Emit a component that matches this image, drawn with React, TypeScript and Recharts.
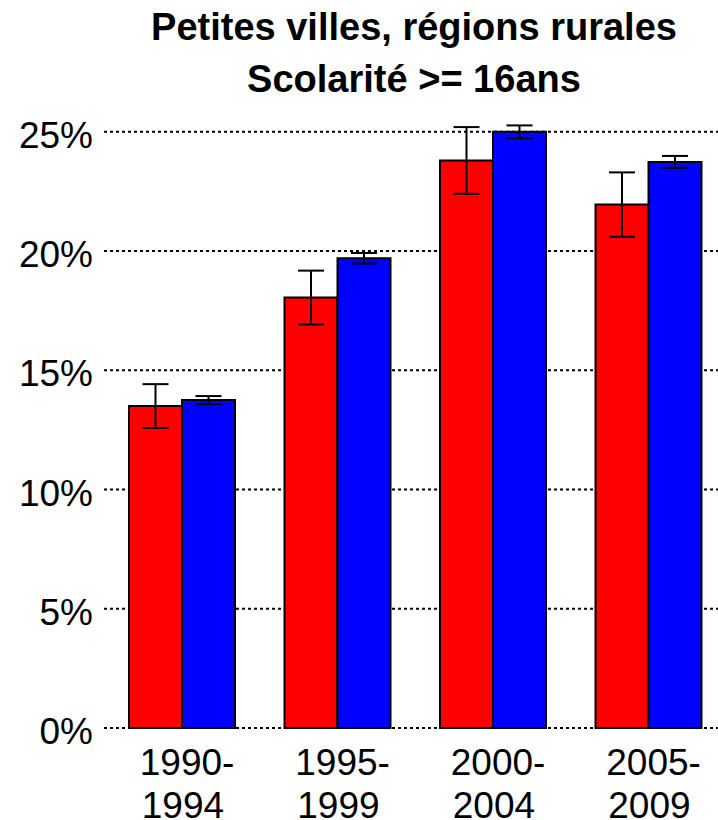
import { BarChart, Bar, XAxis, YAxis, CartesianGrid, ErrorBar } from 'recharts';

const periods = ['1990-1994', '1995-1999', '2000-2004', '2005-2009'];
const redValues = [13.5, 18.05, 23.8, 21.95];
const redErrors = [0.92, 1.13, 1.4, 1.35];
const blueValues = [13.75, 19.7, 25.0, 23.74];
const blueErrors = [0.17, 0.22, 0.27, 0.25];
const yTicks = [0, 5, 10, 15, 20, 25];
const titleLines = ['Petites villes, régions rurales', 'Scolarité >= 16ans'];

const data = periods.map((p, i) => ({
  period: p,
  red: redValues[i],
  redErr: redErrors[i],
  blue: blueValues[i],
  blueErr: blueErrors[i],
}));

const font = '"Liberation Sans", Arial, sans-serif';

const YTick = ({ x, y, payload }: any) => (
  <text x={x} y={y} dy={16} textAnchor="end" fontSize={37} fill="#000" fontFamily={font}>
    {payload.value}%
  </text>
);

const XTick = ({ x, y, payload }: any) => {
  const [a, b] = String(payload.value).split('-');
  return (
    <g>
      <text x={x - 42} y={y} dy={39} textAnchor="start" fontSize={37} fill="#000" fontFamily={font}>
        {a}-
      </text>
      <text x={x - 40} y={y} dy={82} textAnchor="start" fontSize={37} fill="#000" fontFamily={font}>
        {b}
      </text>
    </g>
  );
};

export default function App() {
  return (
    <div style={{ position: 'absolute', left: 0, top: 0, width: 718, height: 820, overflow: 'hidden', background: '#fff', fontFamily: font }}>
      <div style={{ position: 'absolute', left: 64, top: 1, width: 700, textAlign: 'center', fontSize: 38, fontWeight: 'bold', lineHeight: '52px', color: '#000' }}>
        {titleLines.map((t) => (
          <div key={t}>{t}</div>
        ))}
      </div>
      <BarChart
        width={726}
        height={820}
        data={data}
        margin={{ top: 108, right: 0, bottom: 0, left: 0 }}
        barCategoryGap={25}
        barGap={0}
      >
        <CartesianGrid vertical={false} syncWithTicks stroke="#000" strokeWidth={2} strokeDasharray="3 3" />
        <XAxis dataKey="period" axisLine={false} tickLine={false} height={92} tick={<XTick />} interval={0} />
        <YAxis
          width={104}
          domain={[0, 26]}
          ticks={yTicks}
          axisLine={false}
          tickLine={false}
          tickSize={0}
          tickMargin={11}
          tick={<YTick />}
        />
        <Bar dataKey="red" fill="#ff0000" stroke="#000" strokeWidth={2} isAnimationActive={false}>
          <ErrorBar dataKey="redErr" width={13} stroke="#000" strokeWidth={2} direction="y" />
        </Bar>
        <Bar dataKey="blue" fill="#0000ff" stroke="#000" strokeWidth={2} isAnimationActive={false}>
          <ErrorBar dataKey="blueErr" width={13} stroke="#000" strokeWidth={2} direction="y" />
        </Bar>
      </BarChart>
    </div>
  );
}
